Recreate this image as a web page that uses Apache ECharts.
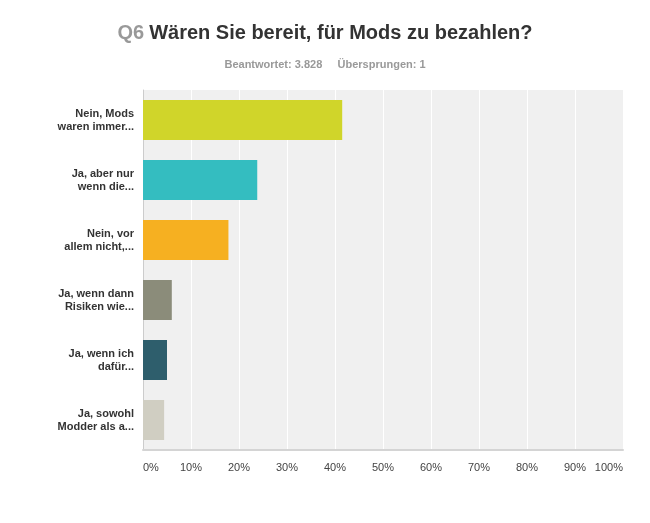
<!DOCTYPE html>
<html><head><meta charset="utf-8">
<script src="https://cdn.jsdelivr.net/npm/echarts@6/dist/echarts.min.js"></script>
<style>html,body{margin:0;padding:0;background:#fff}#c{width:650px;height:523px}</style>
</head><body><div id="c"></div>
<script>
var categories = [
  "Nein, Mods\nwaren immer...",
  "Ja, aber nur\nwenn die...",
  "Nein, vor\nallem nicht,...",
  "Ja, wenn dann\nRisiken wie...",
  "Ja, wenn ich\ndafür...",
  "Ja, sowohl\nModder als a..."
];
var values = [41.5, 23.8, 17.8, 6.0, 5.0, 4.4];
var barColors = ["#d0d52a", "#34bdc0", "#f6b021", "#8b8c7a", "#2e5e6c", "#d0cec2"];
var xTicks = [0,10,20,30,40,50,60,70,80,90,100];

var chart = echarts.init(document.getElementById('c'));
chart.setOption({
  animation: false,
  backgroundColor: '#fff',
  title: [{
    text: '{a|Q6} {b|Wären Sie bereit, für Mods zu bezahlen?}',
    left: 'center', top: 18,
    textStyle: { rich: {
      a: { fontFamily: 'Liberation Sans, Arial', fontSize: 20, fontWeight: 'bold', color: '#999' },
      b: { fontFamily: 'Liberation Sans, Arial', fontSize: 20, fontWeight: 'bold', color: '#333' }
    }}
  }, {
    text: 'Beantwortet: 3.828     Übersprungen: 1',
    left: 'center', top: 54,
    textStyle: { fontFamily: 'Liberation Sans, Arial', fontSize: 11, fontWeight: 'bold', color: '#999' }
  }],
  grid: { left: 143, right: 27, top: 90, bottom: 73, show: true, backgroundColor: '#f0f0f0', borderWidth: 0 },
  xAxis: {
    type: 'value', min: 0, max: 100, interval: 10,
    axisLine: { show: true, lineStyle: { color: '#d4d4d4', width: 2 } },
    axisTick: { show: false },
    splitLine: { show: true, lineStyle: { color: '#ffffff', width: 1 } },
    axisLabel: {
      formatter: function (v) { return xTicks.indexOf(v) >= 0 ? v + '%' : ''; },
      color: '#444', fontFamily: 'Liberation Sans, Arial', fontSize: 11, margin: 12,
      alignMinLabel: 'left', alignMaxLabel: 'right'
    }
  },
  yAxis: {
    type: 'category', data: categories, inverse: true,
    axisLine: { show: true, lineStyle: { color: '#cccccc', width: 1 } },
    axisTick: { show: false },
    axisLabel: {
      color: '#333', fontFamily: 'Liberation Sans, Arial', fontSize: 11, fontWeight: 'bold',
      lineHeight: 13, margin: 9, align: 'right'
    }
  },
  series: [{
    type: 'bar',
    barWidth: 40,
    data: values.map(function (v, i) { return { value: v, itemStyle: { color: barColors[i] } }; })
  }]
});
</script>
</body></html>
